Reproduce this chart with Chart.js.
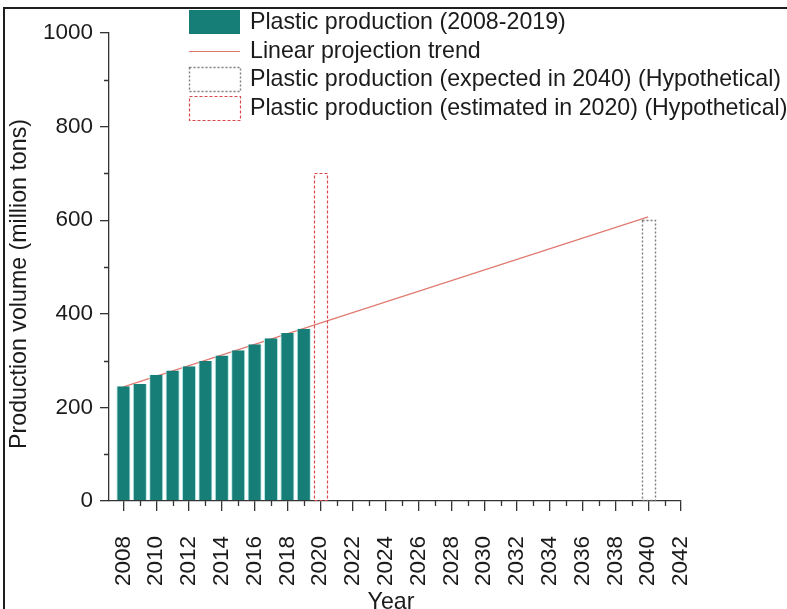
<!DOCTYPE html>
<html>
<head>
<meta charset="utf-8">
<title>Plastic production volume</title>
<script src="https://cdn.jsdelivr.net/npm/chart.js@4.4.1/dist/chart.umd.min.js"></script>
<style>
  html, body { margin: 0; padding: 0; background: #fff; overflow: hidden; }
  #wrap { position: relative; width: 787px; height: 609px; }
</style>
</head>
<body>
<div id="wrap"><canvas id="chart" width="787" height="609"></canvas></div>
<script>
// ---- data -------------------------------------------------------------
const years = [2008, 2009, 2010, 2011, 2012, 2013, 2014, 2015, 2016, 2017, 2018, 2019];
const production = [245, 250, 270, 279, 288, 299, 311, 322, 335, 348, 359, 368];

const trendYears = [2008, 2040];
const trendValues = [244, 607];

const expectedYears = [2040];
const expectedValues = [600];

const estimatedYears = [2020];
const estimatedValues = [700];

const yearTicks = [2008, 2010, 2012, 2014, 2016, 2018, 2020, 2022, 2024, 2026,
                   2028, 2030, 2032, 2034, 2036, 2038, 2040, 2042];
const volumeTicks = [0, 200, 400, 600, 800, 1000];

const seriesLabels = [
  'Plastic production (2008-2019)',
  'Linear projection trend',
  'Plastic production (expected in 2040) (Hypothetical)',
  'Plastic production (estimated in 2020) (Hypothetical)'
];
const xTitle = 'Year';
const yTitle = 'Production volume (million tons)';

// ---- styling ----------------------------------------------------------
const FONT = "'Liberation Sans', Arial, Helvetica, sans-serif";
const INK = '#1b1b1b';
const AXIS = '#333333';
const TEAL = '#177d77';

Chart.defaults.font.family = FONT;
Chart.defaults.color = INK;

const toPoints = (xs, ys) => xs.map((x, i) => ({ x: x, y: ys[i] }));

// white page + cropped frame lines on the top and left
const framePlugin = {
  id: 'frame',
  beforeDraw(chart) {
    const c = chart.ctx;
    c.save();
    c.fillStyle = '#fff';
    c.fillRect(0, 0, chart.width, chart.height);
    c.restore();
  },
  afterDraw(chart) {
    const c = chart.ctx;
    c.save();
    c.strokeStyle = '#1e1e1e';
    c.lineWidth = 2;
    c.beginPath();
    c.moveTo(4, chart.height);
    c.lineTo(4, 8);
    c.lineTo(chart.width, 8);
    c.stroke();
    c.restore();
  }
};

// short unlabelled ticks halfway between the labelled ones
const minorTickPlugin = {
  id: 'minorTicks',
  afterDraw(chart) {
    const c = chart.ctx;
    const xs = chart.scales.x, ys = chart.scales.y;
    const area = chart.chartArea;
    c.save();
    c.strokeStyle = AXIS;
    c.lineWidth = 1.3;
    c.beginPath();
    for (let i = 0; i < yearTicks.length - 1; i++) {
      const px = Math.round(xs.getPixelForValue((yearTicks[i] + yearTicks[i + 1]) / 2)) + 0.5;
      c.moveTo(px, area.bottom);
      c.lineTo(px, area.bottom + 5);
    }
    for (let i = 0; i < volumeTicks.length - 1; i++) {
      const py = Math.round(ys.getPixelForValue((volumeTicks[i] + volumeTicks[i + 1]) / 2)) + 0.5;
      c.moveTo(area.left - 5, py);
      c.lineTo(area.left, py);
    }
    c.stroke();
    c.restore();
  }
};

// hypothetical bars are drawn as dashed outlines around the bar geometry
const outlineBarPlugin = {
  id: 'outlineBars',
  afterDatasetsDraw(chart) {
    const c = chart.ctx;
    chart.data.datasets.forEach((ds, i) => {
      if (!ds.outline) return;
      const meta = chart.getDatasetMeta(i);
      meta.data.forEach(el => {
        const p = el.getProps(['x', 'y', 'base', 'width'], true);
        c.save();
        c.strokeStyle = ds.outline.color;
        c.lineWidth = ds.outline.width;
        c.setLineDash(ds.outline.dash);
        c.strokeRect(Math.round(p.x - p.width / 2) + 0.5, Math.round(p.y) + 0.5,
                     Math.round(p.width), Math.round(p.base - p.y));
        c.restore();
      });
    });
  }
};

// legend in the upper area, one row per dataset
const legendPlugin = {
  id: 'boxLegend',
  afterDraw(chart) {
    const c = chart.ctx;
    const sx = 189, sw = 51, sh = 24, top = 22, step = 28.5, tx = 250;
    c.save();
    c.font = '23.2px ' + FONT;
    c.textBaseline = 'middle';
    c.textAlign = 'left';
    chart.data.datasets.forEach((ds, i) => {
      const cy = top + i * step;
      if (ds.outline) {
        c.save();
        c.strokeStyle = ds.outline.color;
        c.lineWidth = ds.outline.width;
        c.setLineDash(ds.outline.dash);
        c.strokeRect(sx + 0.5, Math.round(cy - sh / 2) + 0.5, sw, sh);
        c.restore();
      } else if (ds.type === 'line') {
        c.save();
        c.strokeStyle = ds.borderColor;
        c.lineWidth = ds.borderWidth;
        c.beginPath();
        c.moveTo(sx, Math.round(cy) + 0.5);
        c.lineTo(sx + sw, Math.round(cy) + 0.5);
        c.stroke();
        c.restore();
      } else {
        c.fillStyle = ds.backgroundColor;
        c.fillRect(sx, Math.round(cy - sh / 2), sw, sh);
      }
      c.fillStyle = INK;
      c.fillText(ds.label, tx, cy + 1);
    });
    c.restore();
  }
};

// axis titles
const axisTitlePlugin = {
  id: 'axisTitles',
  afterDraw(chart) {
    const c = chart.ctx;
    c.save();
    c.fillStyle = INK;
    c.font = '23.2px ' + FONT;
    c.textAlign = 'center';
    c.textBaseline = 'alphabetic';
    c.fillText(xTitle, 391, 609);
    c.translate(26, 284);
    c.rotate(-Math.PI / 2);
    c.fillText(yTitle, 0, 0);
    c.restore();
  }
};

new Chart(document.getElementById('chart'), {
  type: 'bar',
  data: {
    datasets: [
      {
        label: seriesLabels[0],
        data: toPoints(years, production),
        backgroundColor: TEAL,
        borderColor: '#b4ece8',
        borderWidth: { left: 1, right: 1, top: 0, bottom: 0 },
        grouped: false,
        barPercentage: 0.86,
        categoryPercentage: 1,
        order: 1
      },
      {
        type: 'line',
        label: seriesLabels[1],
        data: toPoints(trendYears, trendValues),
        borderColor: '#e07a70',
        borderWidth: 1.2,
        pointRadius: 0,
        tension: 0,
        fill: false,
        order: 3
      },
      {
        label: seriesLabels[2],
        data: toPoints(expectedYears, expectedValues),
        backgroundColor: 'rgba(0,0,0,0)',
        borderWidth: 0,
        grouped: false,
        barPercentage: 0.8,
        categoryPercentage: 1,
        outline: { color: '#7d7d7d', width: 1.4, dash: [2, 2] },
        order: 0
      },
      {
        label: seriesLabels[3],
        data: toPoints(estimatedYears, estimatedValues),
        backgroundColor: 'rgba(0,0,0,0)',
        borderWidth: 0,
        grouped: false,
        barPercentage: 0.8,
        categoryPercentage: 1,
        outline: { color: '#d9474a', width: 1.2, dash: [3, 2] },
        order: 0
      }
    ]
  },
  options: {
    responsive: false,
    animation: false,
    devicePixelRatio: 1,
    layout: { padding: { top: 33, right: 106, left: 0, bottom: 0 } },
    plugins: {
      legend: { display: false },
      tooltip: { enabled: false },
      title: { display: false }
    },
    scales: {
      x: {
        type: 'linear',
        min: 2007.12,
        max: 2042,
        offset: false,
        afterBuildTicks: s => { s.ticks = yearTicks.map(v => ({ value: v })); },
        afterFit: s => { s.height = 108; },
        ticks: {
          autoSkip: false,
          minRotation: 90,
          maxRotation: 90,
          padding: 25,
          font: { size: 22.5 },
          color: INK,
          callback: v => String(v)
        },
        grid: { offset: false, drawOnChartArea: false, drawTicks: true, tickLength: 10, color: AXIS, lineWidth: 1.3 },
        border: { display: true, color: AXIS, width: 1.3 }
      },
      y: {
        min: 0,
        max: 1000,
        afterBuildTicks: s => { s.ticks = volumeTicks.map(v => ({ value: v })); },
        afterFit: s => { s.width = 109; },
        ticks: { padding: 7, font: { size: 22.5 }, color: INK, callback: v => String(v) },
        grid: { drawOnChartArea: false, drawTicks: true, tickLength: 9, color: AXIS, lineWidth: 1.3 },
        border: { display: true, color: AXIS, width: 1.3 }
      }
    }
  },
  plugins: [framePlugin, minorTickPlugin, outlineBarPlugin, legendPlugin, axisTitlePlugin]
});
</script>
</body>
</html>
